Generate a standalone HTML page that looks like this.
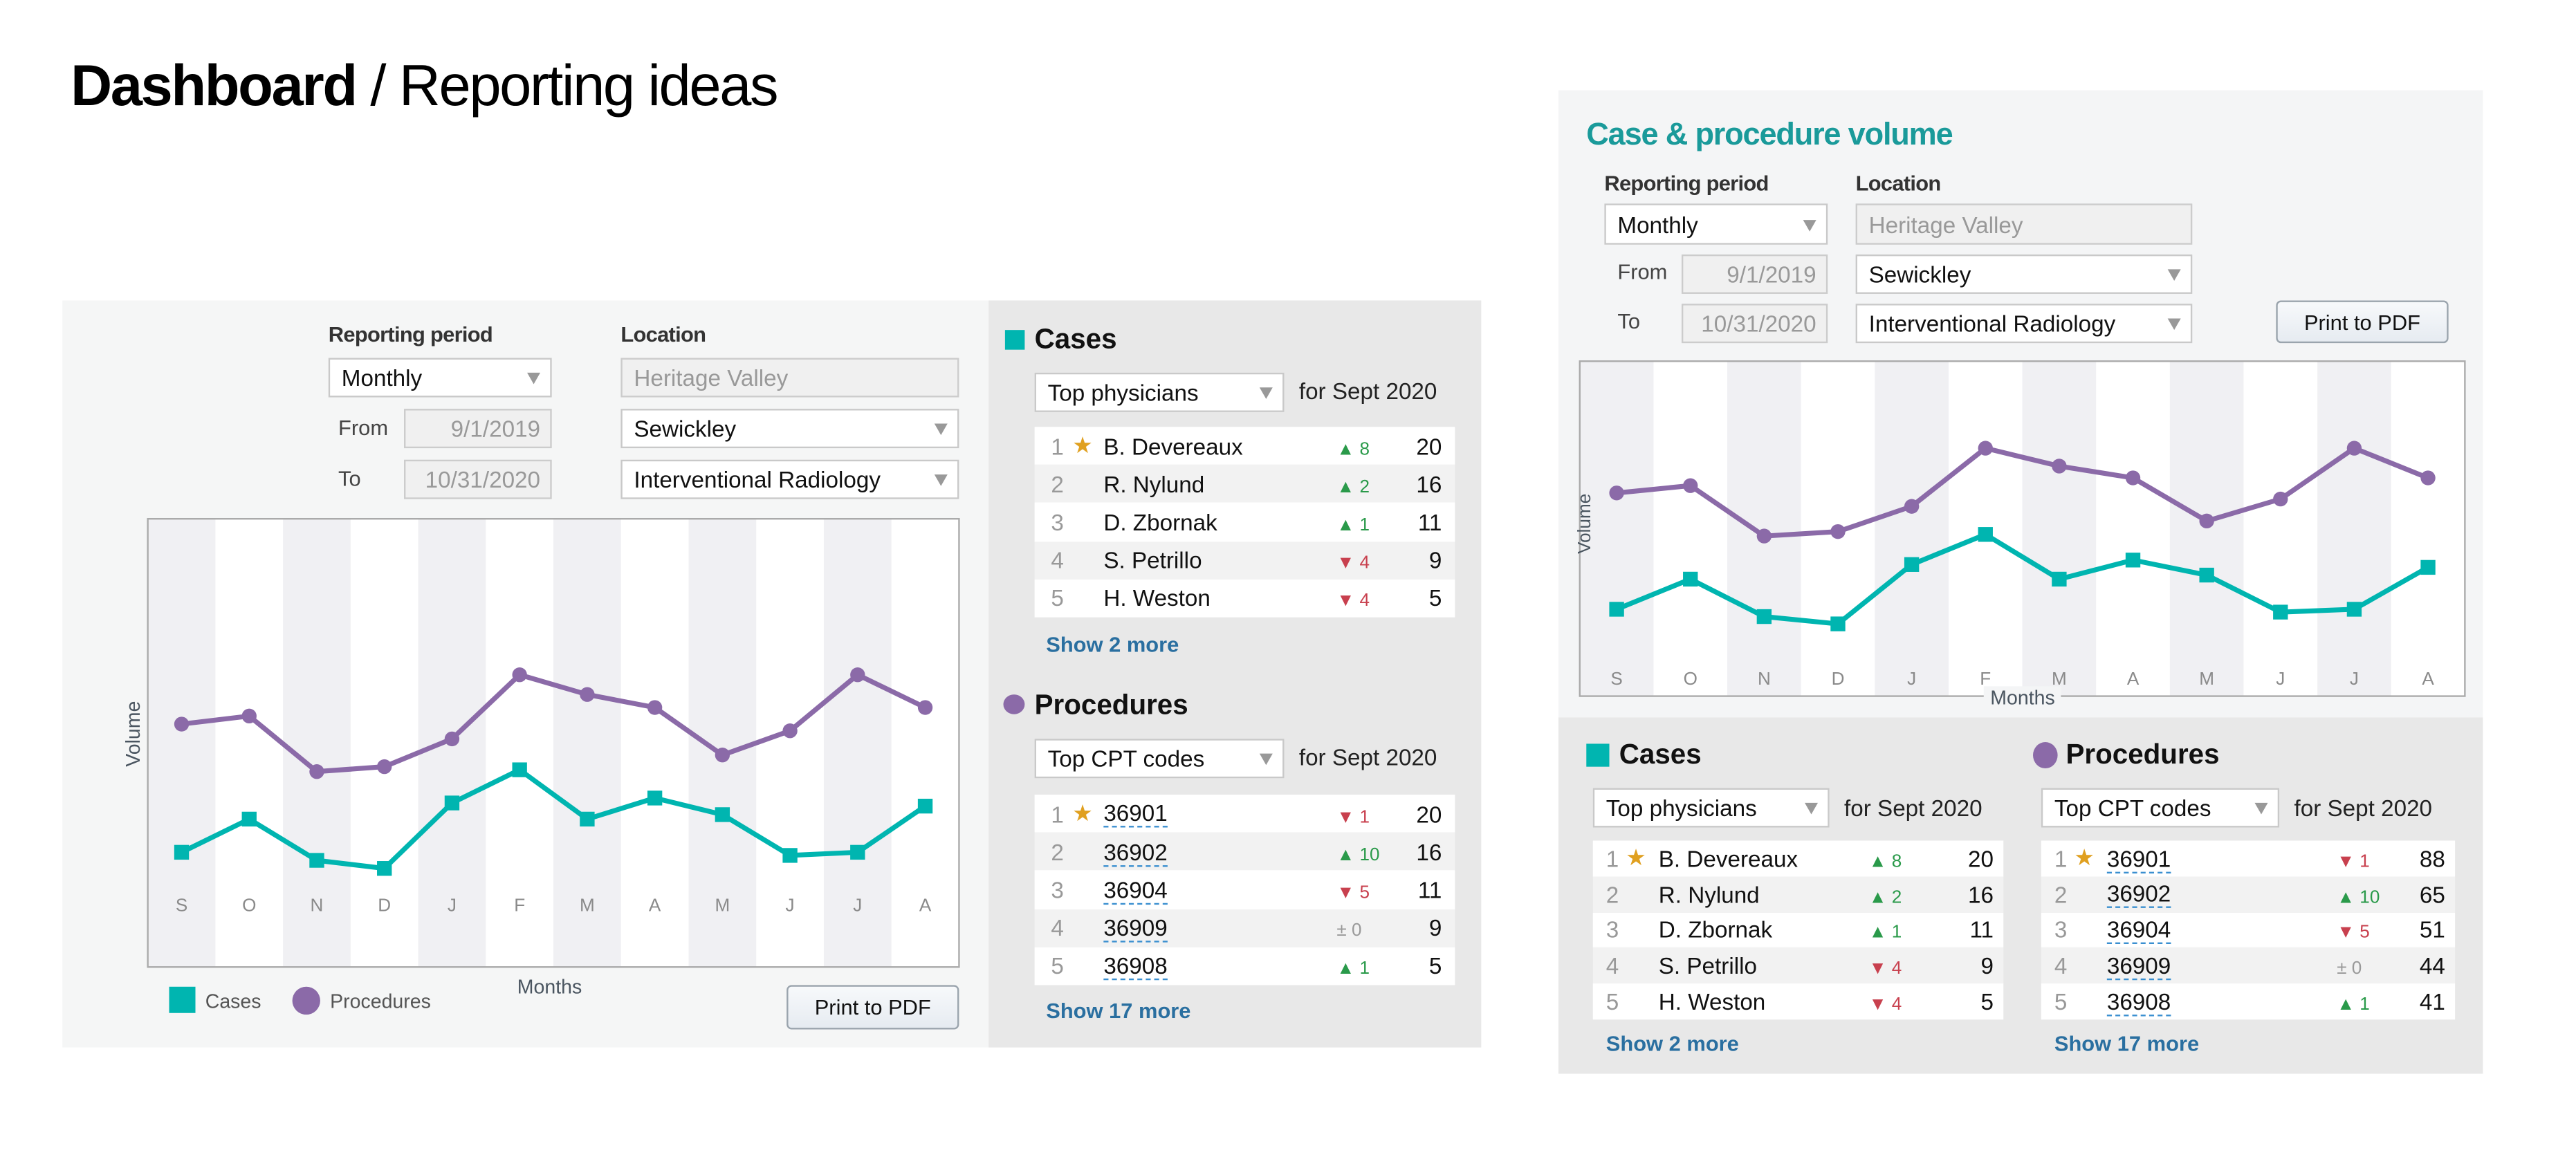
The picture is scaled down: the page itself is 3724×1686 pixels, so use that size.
<!DOCTYPE html>
<html><head><meta charset="utf-8">
<style>
html,body{margin:0;padding:0;background:#fff;width:3724px;height:1684px;overflow:hidden}
#root{position:absolute;left:0;top:0;width:1570px;height:710px;transform:scale(2.374);transform-origin:0 0;font-family:"Liberation Sans",sans-serif;color:#222}
.abs{position:absolute;box-sizing:border-box}
.lbl{font-size:13px;color:#333;font-weight:bold;letter-spacing:-0.3px}
.sel{background:#fff;border:1px solid #c9c9c9;font-size:14px;color:#111;padding-left:7px;display:flex;align-items:center;white-space:nowrap}
.sel .arr{position:absolute;right:6px;top:50%;margin-top:-3px;width:0;height:0;border-left:4px solid transparent;border-right:4px solid transparent;border-top:7px solid #999}
.dis{background:#f0f0f0;border:1px solid #ccc;color:#999;font-size:14px;display:flex;align-items:center;white-space:nowrap}
.btn{background:linear-gradient(#f7f9fb,#e6ebf1);border:1px solid #9aa4ad;border-radius:3px;font-size:13px;color:#111;display:flex;align-items:center;justify-content:center}
.sm{font-size:13px;color:#444}
.h2{font-size:17px;font-weight:bold;color:#111}
.more{font-size:13px;color:#2a6fa0;font-weight:bold}
.row{position:absolute;left:0;right:0;font-size:14px;display:flex;align-items:center}
</style></head><body>
<div id="root">
<div class="abs" style="left:43px;top:33px;font-size:35px;letter-spacing:-1px;color:#000;white-space:nowrap"><b>Dashboard</b> / Reporting ideas</div>

<div class="abs" style="left:38px;top:183px;width:564px;height:455px;background:#f5f6f6"></div>
<div class="abs" style="left:602px;top:183px;width:300px;height:455px;background:#e8e8e8"></div>

<div class="abs lbl" style="left:200px;top:196px">Reporting period</div>
<div class="abs lbl" style="left:378px;top:196px">Location</div>
<div class="abs sel" style="left:200px;top:218px;width:136px;height:24px">Monthly<span class="arr"></span></div>
<div class="abs dis" style="left:378px;top:218px;width:206px;height:24px;padding-left:7px">Heritage Valley</div>
<div class="abs sm" style="left:206px;top:253px">From</div>
<div class="abs dis" style="left:246px;top:249px;width:90px;height:24px;justify-content:flex-end;padding-right:6px">9/1/2019</div>
<div class="abs sel" style="left:378px;top:249px;width:206px;height:24px">Sewickley<span class="arr"></span></div>
<div class="abs sm" style="left:206px;top:284px">To</div>
<div class="abs dis" style="left:246px;top:280px;width:90px;height:24px;justify-content:flex-end;padding-right:6px">10/31/2020</div>
<div class="abs sel" style="left:378px;top:280px;width:206px;height:24px">Interventional Radiology<span class="arr"></span></div>

<svg class="abs" id="chartL" style="left:0;top:0" width="1570" height="710"></svg>

<div class="abs" style="left:103px;top:601px;width:16px;height:16px;background:#00b5b0"></div>
<div class="abs" style="left:125px;top:603px;font-size:12px;color:#555">Cases</div>
<div class="abs" style="left:178px;top:601px;width:17px;height:17px;border-radius:50%;background:#8b6aa8"></div>
<div class="abs" style="left:201px;top:603px;font-size:12px;color:#555">Procedures</div>
<div class="abs" style="left:315px;top:594px;font-size:12px;color:#4a5560">Months</div>
<div class="abs" style="left:61px;top:440px;font-size:12px;color:#4a5560;transform:rotate(-90deg)">Volume</div>
<div class="abs btn" style="left:479px;top:600px;width:105px;height:27px">Print to PDF</div>

<div class="abs" style="left:612px;top:201px;width:12px;height:12px;background:#00b5b0"></div>
<div class="abs h2" style="left:630px;top:197px">Cases</div>
<div class="abs sel" style="left:630px;top:227px;width:152px;height:24px">Top physicians<span class="arr"></span></div>
<div class="abs sm" style="left:791px;top:230px;font-size:14px;color:#222">for Sept 2020</div>
<div class="abs" id="tL1" style="left:630px;top:260px;width:256px;height:116px"></div>
<div class="abs more" style="left:637px;top:385px">Show 2 more</div>

<div class="abs" style="left:611px;top:423px;width:13px;height:12px;border-radius:50%;background:#8b6aa8"></div>
<div class="abs h2" style="left:630px;top:420px">Procedures</div>
<div class="abs sel" style="left:630px;top:450px;width:152px;height:24px">Top CPT codes<span class="arr"></span></div>
<div class="abs sm" style="left:791px;top:453px;font-size:14px;color:#222">for Sept 2020</div>
<div class="abs" id="tL2" style="left:630px;top:484px;width:256px;height:116px"></div>
<div class="abs more" style="left:637px;top:608px">Show 17 more</div>

<div class="abs" style="left:949px;top:55px;width:563px;height:382px;background:#f4f5f6"></div>
<div class="abs" style="left:949px;top:437px;width:563px;height:217px;background:#e8e8e8"></div>
<div class="abs" style="left:966px;top:72px;font-size:19px;font-weight:bold;color:#1a9a9a;letter-spacing:-0.5px">Case &amp; procedure volume</div>
<div class="abs lbl" style="left:977px;top:104px">Reporting period</div>
<div class="abs lbl" style="left:1130px;top:104px">Location</div>
<div class="abs sel" style="left:977px;top:124px;width:136px;height:25px">Monthly<span class="arr"></span></div>
<div class="abs dis" style="left:1130px;top:124px;width:205px;height:25px;padding-left:7px">Heritage Valley</div>
<div class="abs sm" style="left:985px;top:158px">From</div>
<div class="abs dis" style="left:1024px;top:155px;width:89px;height:24px;justify-content:flex-end;padding-right:6px">9/1/2019</div>
<div class="abs sel" style="left:1130px;top:155px;width:205px;height:24px">Sewickley<span class="arr"></span></div>
<div class="abs sm" style="left:985px;top:188px">To</div>
<div class="abs dis" style="left:1024px;top:185px;width:89px;height:24px;justify-content:flex-end;padding-right:6px">10/31/2020</div>
<div class="abs sel" style="left:1130px;top:185px;width:205px;height:24px">Interventional Radiology<span class="arr"></span></div>
<div class="abs btn" style="left:1386px;top:183px;width:105px;height:26px">Print to PDF</div>

<svg class="abs" id="chartR" style="left:0;top:0" width="1570" height="710"></svg>
<div class="abs" style="left:1208px;top:418px;font-size:12px;color:#4a5560;background:#f4f5f6;padding:0 4px">Months</div>
<div class="abs" style="left:947px;top:313px;font-size:11px;color:#4a5560;transform:rotate(-90deg)">Volume</div>

<div class="abs" style="left:966px;top:453px;width:14px;height:14px;background:#00b5b0"></div>
<div class="abs h2" style="left:986px;top:450px">Cases</div>
<div class="abs" style="left:1238px;top:452px;width:15px;height:16px;border-radius:50%;background:#8b6aa8"></div>
<div class="abs h2" style="left:1258px;top:450px">Procedures</div>
<div class="abs sel" style="left:970px;top:480px;width:144px;height:24px">Top physicians<span class="arr"></span></div>
<div class="abs sm" style="left:1123px;top:484px;font-size:14px;color:#222">for Sept 2020</div>
<div class="abs sel" style="left:1243px;top:480px;width:145px;height:24px">Top CPT codes<span class="arr"></span></div>
<div class="abs sm" style="left:1397px;top:484px;font-size:14px;color:#222">for Sept 2020</div>
<div class="abs" id="tR1" style="left:970px;top:512px;width:250px;height:109px"></div>
<div class="abs" id="tR2" style="left:1243px;top:512px;width:252px;height:109px"></div>
<div class="abs more" style="left:978px;top:628px">Show 2 more</div>
<div class="abs more" style="left:1251px;top:628px">Show 17 more</div>
</div>

<script>
const months = ["S","O","N","D","J","F","M","A","M","J","J","A"];
const casesVolume = [25.6,33,23.8,22,36.6,44,33,37.7,34,24.9,25.6,35.9];
const proceduresVolume = [54.2,56,43.6,44.7,50.9,65.2,60.8,57.9,47.3,52.7,65.2,57.9];
const physicianNames = ["B. Devereaux","R. Nylund","D. Zbornak","S. Petrillo","H. Weston"];
const physicianDeltas = [8,2,1,-4,-4];
const physicianCounts = [20,16,11,9,5];
const cptCodes = ["36901","36902","36904","36909","36908"];
const cptDeltas = [-1,10,-5,0,1];
const cptCountsLeft = [20,16,11,9,5];
const cptCountsRight = [88,65,51,44,41];

const NS="http://www.w3.org/2000/svg";
function mk(svg,tag,attrs){const e=document.createElementNS(NS,tag);for(const k in attrs)e.setAttribute(k,attrs[k]);svg.appendChild(e);return e;}

function drawChart(svg,x0,y0,w,h,yScale,labelY,fs){
  const cw=w/months.length;
  const xScale=i=>x0+cw*(i+0.5);
  mk(svg,'rect',{x:x0,y:y0,width:w,height:h,fill:'#fff'});
  months.forEach((m,i)=>{
    if(i%2===0){const b=mk(svg,'rect',{x:x0+cw*i,y:y0,width:cw,height:h,fill:'#f0f0f3'});
      
      }
    const t=mk(svg,'text',{x:xScale(i),y:labelY,'text-anchor':'middle','font-size':fs,fill:'#8a8a8a','font-family':'Liberation Sans, sans-serif'});
    t.textContent=m;
    
    
  });
  mk(svg,'rect',{x:x0,y:y0,width:w,height:h,fill:'none',stroke:'#aaa','stroke-width':1});
  const pl=mk(svg,'polyline',{points:proceduresVolume.map((v,i)=>xScale(i)+','+yScale(v)).join(' '),fill:'none',stroke:'#8b6aa8','stroke-width':3,'stroke-linejoin':'round'});
  
  
  const cl=mk(svg,'polyline',{points:casesVolume.map((v,i)=>xScale(i)+','+yScale(v)).join(' '),fill:'none',stroke:'#00b5b0','stroke-width':3,'stroke-linejoin':'round'});
  
  
  proceduresVolume.forEach((v,i)=>{const c=mk(svg,'circle',{cx:xScale(i),cy:yScale(v),r:4.5,fill:'#8b6aa8'});
    
    });
  casesVolume.forEach((v,i)=>{const r=mk(svg,'rect',{x:xScale(i)-4.5,y:yScale(v)-4.5,width:9,height:9,fill:'#00b5b0'});
    
    });
}
drawChart(document.getElementById('chartL'),90,316,494,273,v=>589-v*2.73,555,11);
drawChart(document.getElementById('chartR'),962,220,539,204,v=>434.5-v*2.477,417,11);

function buildTable(el,names,deltas,counts,rh,link,cols){
  names.forEach((n,i)=>{
    const r=document.createElement('div');
    r.className='row';
    
    
    r.style.top=(i*rh)+'px';r.style.height=rh+'px';
    r.style.background=i%2?'#f2f2f2':'#fff';
    const d=deltas[i];
    let dh;
    if(d>0)dh='<span style="color:#2a9a4a;font-size:11px">&#9650; '+d+'</span>';
    else if(d<0)dh='<span style="color:#c8404e;font-size:11px">&#9660; '+(-d)+'</span>';
    else dh='<span style="color:#999;font-size:11px">&plusmn; 0</span>';
    const nm=link?'<span style="border-bottom:1px dashed #3a8fd0;line-height:1.1">'+n+'</span>':n;
    r.innerHTML='<span style="position:absolute;left:'+cols[0]+'px;color:#999">'+(i+1)+'</span>'+
      (i===0?'<span style="position:absolute;left:'+cols[1]+'px;color:#e0a020">&#9733;</span>':'')+
      '<span style="position:absolute;left:'+cols[2]+'px;color:#111">'+nm+'</span>'+
      '<span style="position:absolute;left:'+cols[3]+'px">'+dh+'</span>'+
      '<span style="position:absolute;right:'+cols[4]+'px;color:#111">'+counts[i]+'</span>';
    el.appendChild(r);
  });
}
buildTable(document.getElementById('tL1'),physicianNames,physicianDeltas,physicianCounts,23.2,false,[10,23,42,184,8]);
buildTable(document.getElementById('tL2'),cptCodes,cptDeltas,cptCountsLeft,23.2,true,[10,23,42,184,8]);
buildTable(document.getElementById('tR1'),physicianNames,physicianDeltas,physicianCounts,21.8,false,[8,20,40,168,6]);
buildTable(document.getElementById('tR2'),cptCodes,cptDeltas,cptCountsRight,21.8,true,[8,20,40,180,6]);
</script>
</body></html>
